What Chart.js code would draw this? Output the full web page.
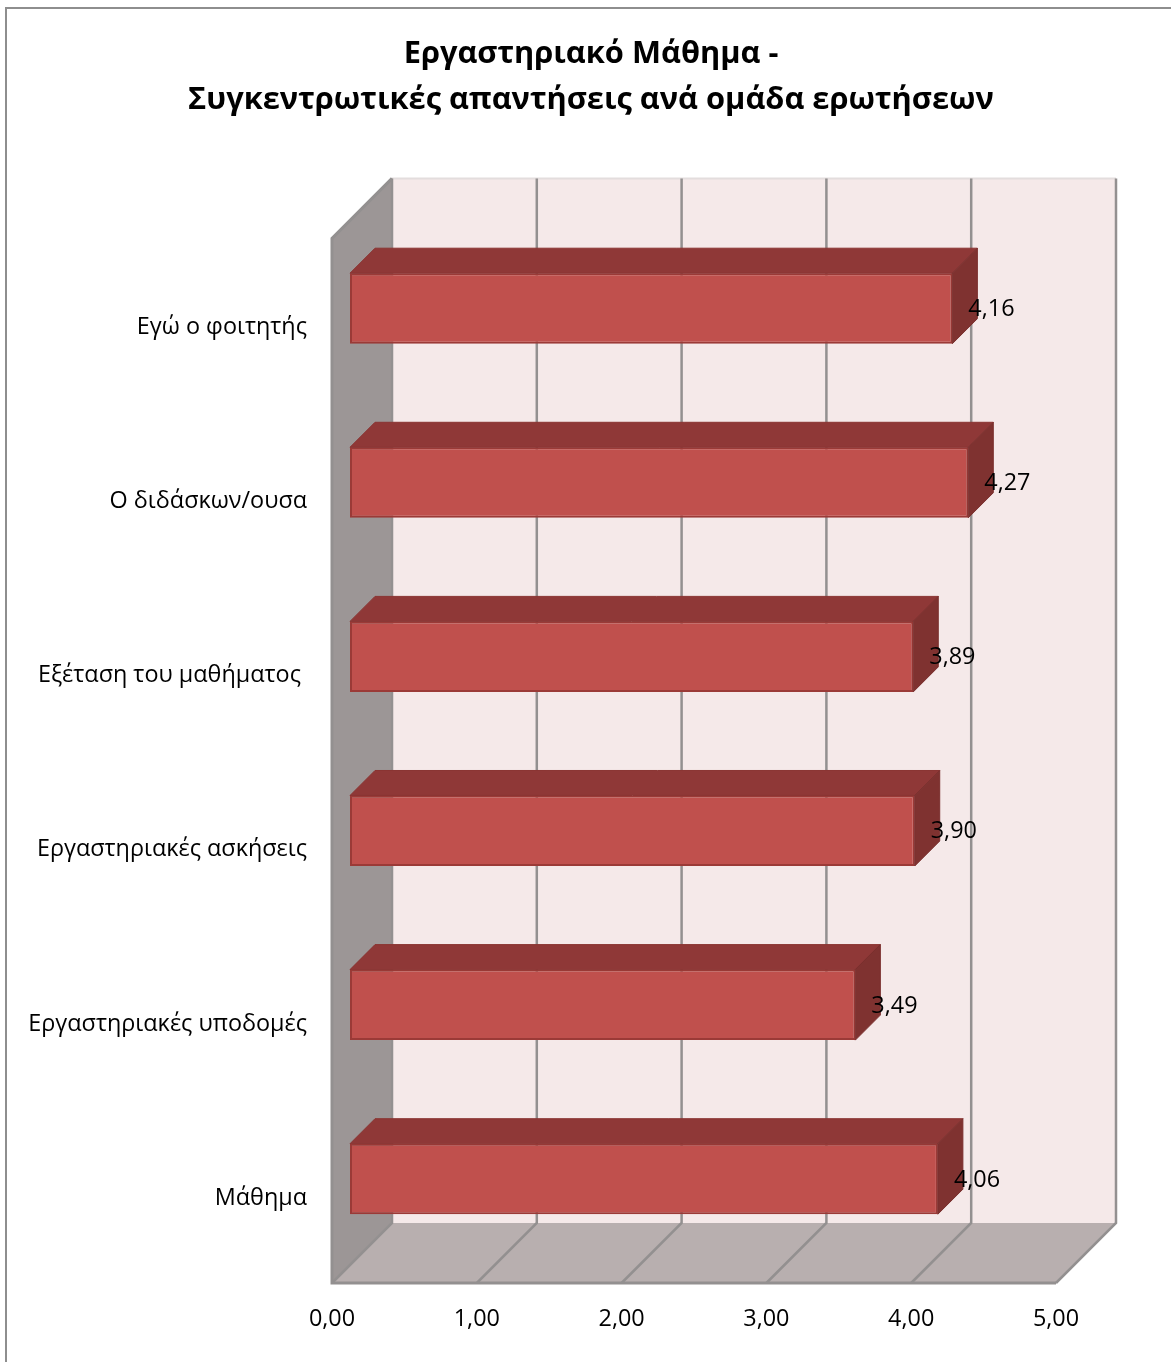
<!DOCTYPE html>
<html>
<head>
<meta charset="utf-8">
<script src="https://cdn.jsdelivr.net/npm/chart.js@4"></script>
<style>
  html, body { margin: 0; padding: 0; background: #fff; }
  canvas { display: block; }
</style>
</head>
<body>
<canvas id="myChart" width="1171" height="1362"></canvas>
<script>
const titleLines = ['Εργαστηριακό Μάθημα -', 'Συγκεντρωτικές απαντήσεις ανά ομάδα ερωτήσεων'];
const categories = ['Εγώ ο φοιτητής', 'Ο διδάσκων/ουσα', 'Εξέταση του μαθήματος ', 'Εργαστηριακές ασκήσεις', 'Εργαστηριακές υποδομές', 'Μάθημα'];
const values = [4.16, 4.27, 3.89, 3.90, 3.49, 4.06];
const xMin = 0;
const xMax = 5;
const xStep = 1;

const FONT = '"Open Sans", "Noto Sans", sans-serif';
const wallDepth = 60;
const barShiftX = 18;
const barShiftY = 17;
const barDepth = 25;

function fmt(v) {
  return v.toFixed(2).replace('.', ',');
}

function poly(ctx, pts, fill, stroke, lw) {
  ctx.beginPath();
  pts.forEach((p, i) => i ? ctx.lineTo(p[0], p[1]) : ctx.moveTo(p[0], p[1]));
  ctx.closePath();
  if (fill) { ctx.fillStyle = fill; ctx.fill(); }
  if (stroke) { ctx.strokeStyle = stroke; ctx.lineWidth = lw; ctx.stroke(); }
}

// outer frame of the chart object
const framePlugin = {
  id: 'frame',
  beforeDraw(chart) {
    const ctx = chart.ctx;
    ctx.save();
    ctx.strokeStyle = '#8e8e8e';
    ctx.lineWidth = 2;
    ctx.beginPath();
    ctx.moveTo(6, chart.height);
    ctx.lineTo(6, 8);
    ctx.lineTo(chart.width, 8);
    ctx.stroke();
    ctx.restore();
  }
};

// walls, floor and 3d faces of the bars
const box3d = {
  id: 'box3d',
  beforeDatasetsDraw(chart) {
    const ctx = chart.ctx;
    const a = chart.chartArea;
    const d = wallDepth;
    const xs = chart.scales.x;
    const line = '#939090';
    ctx.save();
    poly(ctx, [[a.left + d, a.top - d], [a.right + d, a.top - d], [a.right + d, a.bottom - d], [a.left + d, a.bottom - d]], '#f5e9e9');
    poly(ctx, [[a.left, a.top], [a.left + d, a.top - d], [a.left + d, a.bottom - d], [a.left, a.bottom]], '#9c9696');
    poly(ctx, [[a.left, a.bottom], [a.left + d, a.bottom - d], [a.right + d, a.bottom - d], [a.right, a.bottom]], '#b8afaf');

    // faint top edge of the back wall
    ctx.strokeStyle = '#e3dddd';
    ctx.lineWidth = 2;
    ctx.beginPath();
    ctx.moveTo(a.left + d, a.top - d);
    ctx.lineTo(a.right + d, a.top - d);
    ctx.stroke();

    ctx.strokeStyle = line;
    ctx.lineWidth = 2.5;
    xs.ticks.forEach((t) => {
      const x = xs.getPixelForValue(t.value);
      ctx.beginPath();
      ctx.moveTo(x, a.bottom);
      ctx.lineTo(x + d, a.bottom - d);
      ctx.lineTo(x + d, a.top - d);
      ctx.stroke();
    });
    ctx.beginPath();
    ctx.moveTo(a.left + d, a.top - d);
    ctx.lineTo(a.left, a.top);
    ctx.lineTo(a.left, a.bottom);
    ctx.lineTo(a.right, a.bottom);
    ctx.lineWidth = 3;
    ctx.stroke();
    ctx.restore();

    ctx.save();
    ctx.translate(barShiftX, -barShiftY);
  },
  afterDatasetsDraw(chart) {
    const ctx = chart.ctx;
    const bars = chart.getDatasetMeta(0).data;
    const dp = barDepth;
    bars.forEach((bar) => {
      const top = bar.y - bar.height / 2;
      const bot = bar.y + bar.height / 2;
      poly(ctx, [[bar.base, top], [bar.base + dp, top - dp], [bar.x + dp, top - dp], [bar.x, top]], '#8f3837', '#8a3432', 1);
      poly(ctx, [[bar.x, top], [bar.x + dp, top - dp], [bar.x + dp, bot - dp], [bar.x, bot]], '#7f3230', '#7a2f2d', 1);
    });
    ctx.fillStyle = '#000';
    ctx.font = '23.4px ' + FONT;
    ctx.textAlign = 'left';
    ctx.textBaseline = 'middle';
    bars.forEach((bar, i) => {
      ctx.fillText(fmt(values[i]), bar.x + 16, bar.y + 1);
    });
    ctx.restore();
  }
};

new Chart(document.getElementById('myChart'), {
  type: 'bar',
  data: {
    labels: categories,
    datasets: [{
      data: values,
      xAxisID: 'x',
      yAxisID: 'y',
      backgroundColor: '#c0504d',
      borderColor: '#9b3a37',
      borderWidth: 2,
      borderSkipped: false,
      categoryPercentage: 1,
      barPercentage: 0.405
    }]
  },
  options: {
    indexAxis: 'y',
    responsive: false,
    animation: false,
    layout: { padding: { left: 11, right: 0, top: 0, bottom: 0 } },
    plugins: {
      legend: { display: false },
      tooltip: { enabled: false },
      title: {
        display: true,
        text: titleLines,
        color: '#000',
        font: { family: FONT, size: 30.8, weight: 'bold', lineHeight: 1.5 },
        padding: { top: 31, bottom: 115 }
      }
    },
    scales: {
      x: {
        min: xMin,
        max: xMax,
        grid: { display: false },
        border: { display: false },
        ticks: {
          stepSize: xStep,
          padding: 14,
          color: '#000',
          font: { family: FONT, size: 23.4 },
          maxRotation: 0,
          callback: (v) => fmt(v)
        },
        afterFit(scale) { scale.height = 79; }
      },
      y: {
        grid: { display: false },
        border: { display: false },
        ticks: {
          padding: 17,
          labelOffset: 2,
          color: '#000',
          font: { family: FONT, size: 23.4 }
        },
        afterFit(scale) { scale.width = 321; }
      },
      yr: {
        type: 'category',
        position: 'right',
        labels: [''],
        grid: { display: false },
        border: { display: false },
        ticks: { display: false },
        afterFit(scale) { scale.width = 115; }
      }
    }
  },
  plugins: [framePlugin, box3d]
});
</script>
</body>
</html>
